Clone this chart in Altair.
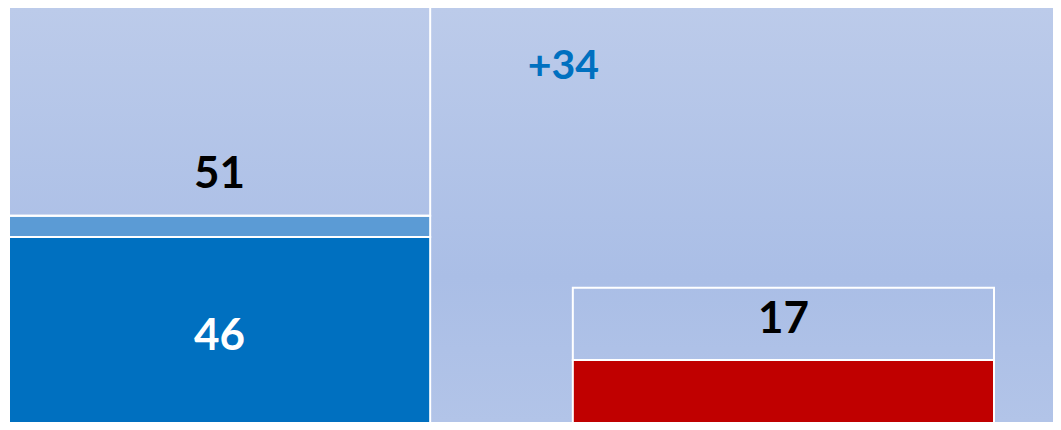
import altair as alt
import pandas as pd

# ---- data ----
groups = ["A", "A", "A", "B", "B"]
segments = ["core", "lean", "total", "core", "total"]
values = [46, 5, 51, 17, 17]
keys = ["A-core", "A-lean", "A-total", "B-core", "B-total"]
seg_colors = ["#0070c0", "#5b9bd5", "transparent", "#c00000", "transparent"]

total_groups = ["A", "B"]
totals = [51, 17]

core_groups = ["A"]
core_values = [46]

diff_text = "+34"
diff_value = 34

# visible window of the value axis (the bars are cropped at the bottom)
y_domain = [2.36, 100]

# ---- tables ----
bars_df = pd.DataFrame({
    "group": groups, "segment": segments, "value": values,
    "key": keys, "ord": list(range(len(values))),
})
totals_df = pd.DataFrame({"group": total_groups, "total": totals})
core_df = pd.DataFrame({"group": core_groups, "value": core_values})
diff_df = pd.DataFrame({"group": ["B"], "anchor": [totals[0]], "label": [diff_text], "diff": [diff_value]})

W, H = 1045, 414
xscale = alt.Scale(domain=["A", "B"], range=[1, 986], paddingInner=0.253, paddingOuter=0)
yscale = alt.Scale(domain=y_domain, zero=False)

bg = alt.Chart(pd.DataFrame({"k": [0]})).mark_rect(
    color=alt.LinearGradient(
        gradient="linear", x1=0, x2=0, y1=0, y2=1,
        stops=[alt.GradientStop(offset=0, color="#bccbea"),
               alt.GradientStop(offset=0.65, color="#aabee6"),
               alt.GradientStop(offset=1, color="#b2c4e8")],
    )
).encode(x=alt.value(0), x2=alt.value("width"), y=alt.value(0), y2=alt.value("height"))

bars = alt.Chart(bars_df).mark_bar(stroke="white", strokeWidth=2, clip=True).encode(
    x=alt.X("group:N", scale=xscale, axis=None),
    y=alt.Y("value:Q", stack="zero", scale=yscale, axis=None),
    fill=alt.Fill("key:N", scale=alt.Scale(domain=keys, range=seg_colors), legend=None),
    order=alt.Order("ord:Q"),
)

total_labels = alt.Chart(totals_df).mark_text(
    font="Lato", fontWeight="bold", fontSize=44, color="black",
    baseline="alphabetic", align="center", dy=-27.3,
).encode(
    x=alt.X("group:N", scale=xscale, axis=None),
    y=alt.Y("total:Q", scale=yscale, axis=None),
    text=alt.Text("total:Q"),
)

core_labels = alt.Chart(core_df).transform_calculate(mid="datum.value / 2").mark_text(
    font="Lato", fontWeight="bold", fontSize=44, color="white",
    baseline="middle", align="center", dy=3,
).encode(
    x=alt.X("group:N", scale=xscale, axis=None),
    y=alt.Y("mid:Q", scale=yscale, axis=None),
    text=alt.Text("value:Q"),
)

diff_label = alt.Chart(diff_df).mark_text(
    font="Lato", fontWeight="bold", fontSize=41, color="#0070c0",
    baseline="alphabetic", align="center", dx=-220, dy=-137,
).encode(
    x=alt.X("group:N", scale=xscale, axis=None),
    y=alt.Y("anchor:Q", scale=yscale, axis=None),
    text=alt.Text("label:N"),
)

chart = alt.layer(bg, bars, total_labels, core_labels, diff_label).properties(
    width=W, height=H, padding=0, background="#b3c5e8",
).configure_view(stroke=None)

chart.save("out.html", embed_options={"renderer": "svg", "actions": False})
